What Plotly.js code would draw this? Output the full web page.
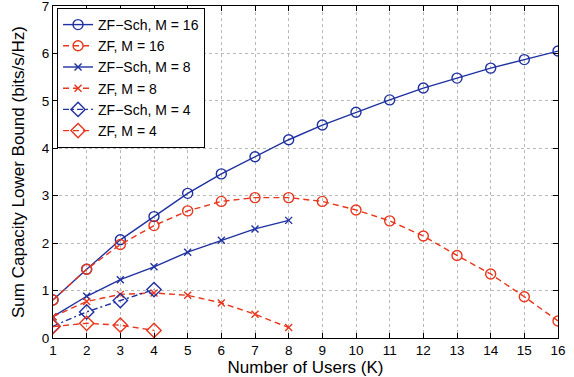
<!DOCTYPE html>
<html><head><meta charset="utf-8">
<script src="https://cdn.plot.ly/plotly-3.0.1.min.js"></script>
<style>html,body{margin:0;padding:0;background:#fff}#c{width:574px;height:377px}</style>
</head><body><div id="c"></div>
<script>
const K16 = [1,2,3,4,5,6,7,8,9,10,11,12,13,14,15,16];
const K8 = [1,2,3,4,5,6,7,8];
const K4 = [1,2,3,4];
const zfSch16 = [0.80,1.45,2.07,2.56,3.05,3.46,3.82,4.18,4.49,4.76,5.02,5.27,5.48,5.69,5.87,6.05];
const zf16 = [0.80,1.45,1.97,2.37,2.68,2.88,2.96,2.96,2.88,2.70,2.47,2.15,1.74,1.35,0.87,0.36];
const zfSch8 = [0.45,0.88,1.23,1.50,1.81,2.06,2.30,2.48];
const zf8 = [0.45,0.77,0.92,0.95,0.90,0.74,0.50,0.22];
const zfSch4 = [0.25,0.55,0.79,1.02];
const zf4 = [0.24,0.31,0.27,0.16];
const names = ['ZF\u2212Sch, M = 16','ZF, M = 16','ZF\u2212Sch, M = 8','ZF, M = 8','ZF\u2212Sch, M = 4','ZF, M = 4'];
const xTicks = K16;
const yTicks = [0,1,2,3,4,5,6,7];

const blue = '#1f31a0', red = '#e8361c';
const FONT = 'Liberation Sans, Arial, sans-serif';
function tr(x,y,name,color,dash,sym,size){
  return {x:x,y:y,name:name,type:'scatter',mode:'lines+markers',
    line:{color:color,width:1.4,dash:dash},
    marker:{symbol:sym,size:size,color:color,line:{color:color,width:1.4}}};
}
const data = [
  tr(K16,zfSch16,names[0],blue,'solid','circle-open',10),
  tr(K16,zf16,names[1],red,'6px,4px','circle-open',10),
  tr(K8,zfSch8,names[2],blue,'solid','x-thin-open',7),
  tr(K8,zf8,names[3],red,'6px,4px','x-thin-open',7),
  tr(K4,zfSch4,names[4],blue,'6px,3px,2px,3px','diamond-open',11),
  tr(K4,zf4,names[5],red,'6px,4px','diamond-open',11)
];
const ax = {showline:true,linecolor:'#000',linewidth:1,mirror:'ticks',ticks:'inside',ticklen:5,tickcolor:'#000',
  showgrid:true,gridcolor:'#b8b8b8',griddash:'dot',gridwidth:1,zeroline:false,ticklabeloverflow:'allow',
  tickfont:{family:FONT,size:13.5,color:'#000'}};
const layout = {
  width:574,height:377,margin:{l:53,r:16,t:6,b:39},
  paper_bgcolor:'#fff',plot_bgcolor:'#fff',
  font:{family:FONT,color:'#000'},
  xaxis:Object.assign({},ax,{range:[1,16],tickvals:xTicks,
    title:{text:'Number of Users (K)',font:{size:17},standoff:0}}),
  yaxis:Object.assign({},ax,{range:[0,7],tickvals:yTicks,
    title:{text:'Sum Capacity Lower Bound (bits/s/Hz)',font:{size:17},standoff:12}}),
  legend:{x:0.008,y:0.994,xanchor:'left',yanchor:'top',bgcolor:'#fff',bordercolor:'#000',borderwidth:1,
    font:{size:14,family:FONT},tracegroupgap:0,itemwidth:30},
  showlegend:true
};
Plotly.newPlot('c',data,layout,{displayModeBar:false,staticPlot:true});
</script></body></html>
